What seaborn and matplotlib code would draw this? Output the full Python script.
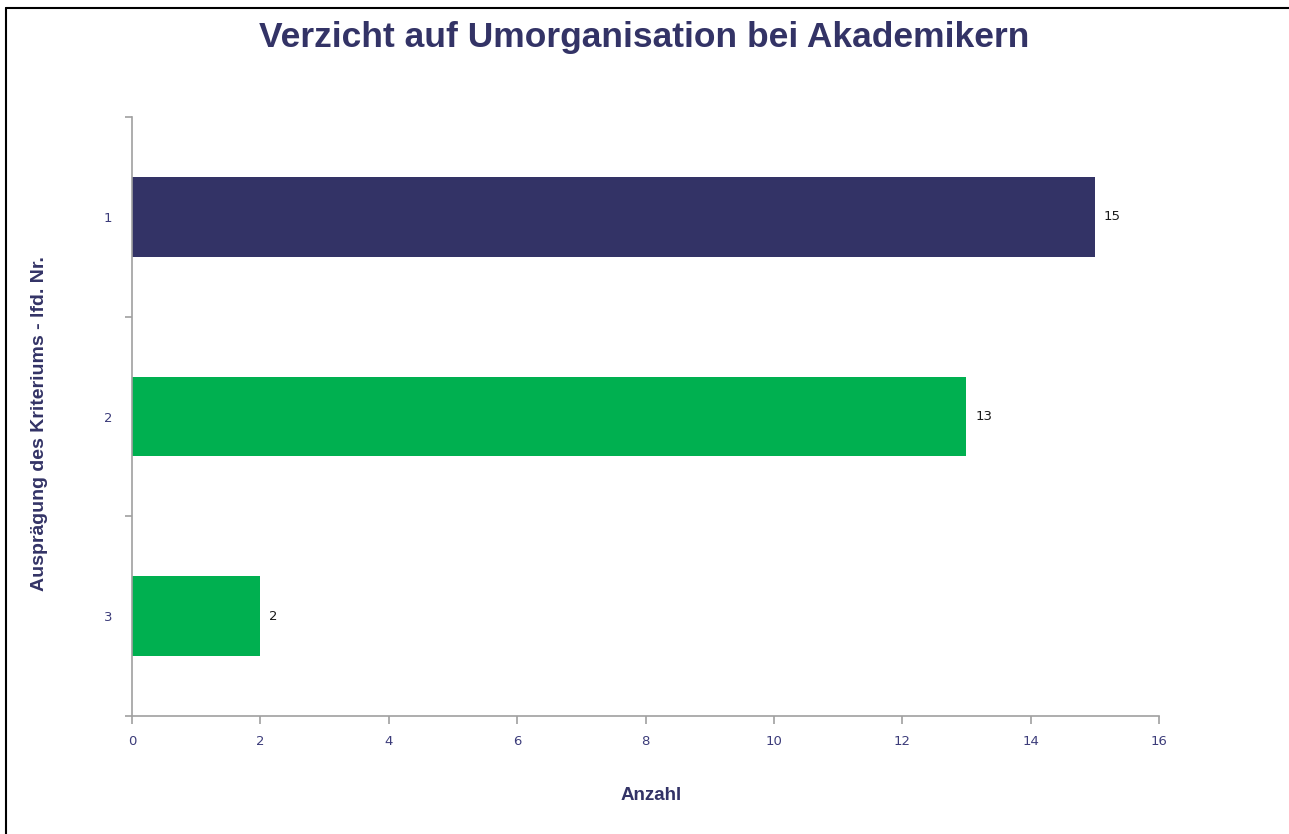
import matplotlib
matplotlib.use("Agg")
import matplotlib.pyplot as plt
import seaborn as sns
import pandas as pd
from matplotlib.ticker import FixedLocator
from matplotlib.lines import Line2D

categories = ["1", "2", "3"]
values = [15, 13, 2]
bar_colors = ["#333366", "#00B050", "#00B050"]
x_ticks = [0, 2, 4, 6, 8, 10, 12, 14, 16]

title = "Verzicht auf Umorganisation bei Akademikern"
ylabel = "Ausprägung des Kriteriums - lfd. Nr."
xlabel = "Anzahl"

sns.set_style("white")
plt.rcParams['font.family'] = ['Liberation Sans', 'DejaVu Sans']

df = pd.DataFrame({"cat": categories, "val": values})

fig = plt.figure(figsize=(12.89, 8.34), dpi=100)
ax = fig.add_axes([132/1289, 1-716/834, (1159-132)/1289, (716-117)/834])

sns.barplot(data=df, x="val", y="cat", hue="cat", palette=bar_colors,
            order=categories, hue_order=categories, orient="h",
            width=0.4, legend=False, ax=ax, saturation=1, linewidth=0)

ax.set_xlim(0, 16)
ax.set_ylim(2.5, -0.5)
ax.set_xticks(x_ticks)
ax.set_xticklabels([str(t) for t in x_ticks])

spine_col = "#A0A0A0"
tick_col = "#3C3C7A"
for s in ["top", "right"]:
    ax.spines[s].set_visible(False)
for s in ["left", "bottom"]:
    ax.spines[s].set_color(spine_col)
    ax.spines[s].set_linewidth(1.2)

ax.tick_params(axis="x", which="major", direction="out", length=6, width=1.2,
               bottom=True, color=spine_col, labelcolor=tick_col,
               labelsize=9.5, pad=8)
ax.tick_params(axis="y", which="major", length=0, left=True,
               labelcolor=tick_col, labelsize=9.5, pad=14)
ax.yaxis.set_minor_locator(FixedLocator([-0.5, 0.5, 1.5, 2.5]))
ax.tick_params(axis="y", which="minor", direction="out", length=5, width=1.2,
               left=True, color=spine_col)
for lab in ax.get_xticklabels() + ax.get_yticklabels():
    lab.set_family(["DejaVu Sans"])

for i, v in enumerate(values):
    ax.text(v + 0.14, i, str(v), va="center", ha="left", fontsize=9.5,
            color="#1A1A1A", family=["DejaVu Sans"])

ax.set_xlabel("")
ax.set_ylabel("")
fig.text(0.5, 1-37/834, title, ha="center", va="center", fontsize=25.5,
         fontweight="bold", color="#333366")
fig.text(40/1289, 1-424/834, ylabel, ha="center", va="center", rotation=90,
         fontsize=14, fontweight="bold", color="#333366")
fig.text(651/1289, 1-795/834, xlabel, ha="center", va="center",
         fontsize=13.5, fontweight="bold", color="#333366")

# outer frame lines (left and top edges)
fig.add_artist(Line2D([6/1289, 6/1289], [0, 1-8/834], transform=fig.transFigure,
                      color="black", linewidth=1.5))
fig.add_artist(Line2D([6/1289, 1], [1-8/834, 1-8/834], transform=fig.transFigure,
                      color="black", linewidth=1.5))

fig.savefig("out.png", dpi=100, facecolor="white")
